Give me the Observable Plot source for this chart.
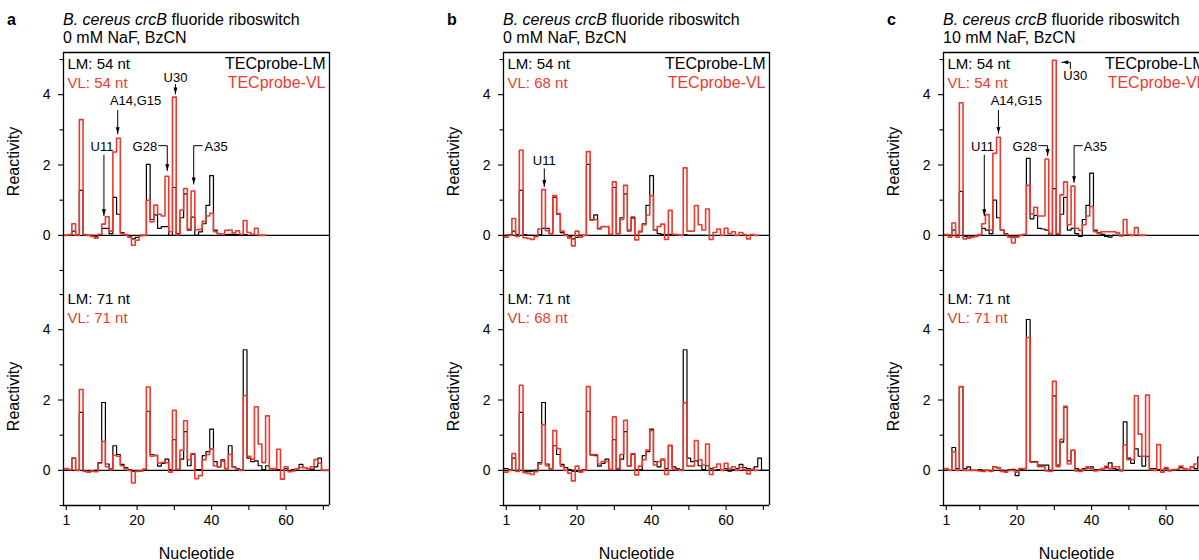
<!DOCTYPE html>
<html>
<head>
<meta charset="utf-8">
<script src="https://cdn.jsdelivr.net/npm/d3@7"></script>
<script src="https://cdn.jsdelivr.net/npm/@observablehq/plot@0.6"></script>
<style>
  html, body { margin: 0; padding: 0; background: #fff; overflow: hidden; }
  #root { position: relative; width: 1199px; height: 560px; overflow: hidden;
          font-family: "Liberation Sans", Arial, sans-serif; color: #000; }
  .abs { position: absolute; white-space: nowrap; }
  .plotbox { width: 340px; }
  .letter { font-size: 16px; font-weight: bold; line-height: 18px; }
  .title { font-size: 16px; line-height: 18px; }
  .abs svg { overflow: visible; max-width: none !important; }
</style>
</head>
<body>
<div id="root"></div>
<script>
// ---------- data: reactivity per nucleotide (index 0 = nucleotide 1) ----------
// TECprobe-LM, 54 nt, 0 mM NaF
const lm54_0mM = [0.0,0.02,0.12,0.02,1.28,0.02,0.0,0.0,-0.03,0.02,
  0.2,0.2,0.05,1.08,0.6,0.08,0.02,-0.02,-0.1,-0.06,
  0.0,0.0,2.02,0.45,0.58,0.2,0.25,0.25,0.0,1.36,
  0.05,0.5,1.18,0.15,0.52,0.0,0.1,0.33,0.85,1.7,
  0.15,0.05,0.03,0.02,0.03,0.02,0.02,0.0,0.02,0.0,
  0.0,0.0,0.0,0.0];
// TECprobe-VL, 54 nt, 0 mM NaF
const vl54_0mM = [0.0,0.02,0.33,0.0,3.29,0.02,0.0,-0.03,-0.08,0.03,
  0.32,0.53,0.12,2.37,2.76,0.05,0.02,-0.05,-0.28,-0.14,
  -0.02,0.0,1.0,0.38,0.86,0.6,0.55,1.68,0.1,3.93,
  0.02,0.72,1.33,0.18,1.26,0.16,0.17,0.4,0.55,0.63,
  0.1,0.05,0.03,0.14,0.15,0.07,0.13,0.03,0.42,0.08,
  0.04,0.2,0.0,0.0];
// TECprobe-LM, 71 nt, 0 mM NaF
const lm71_0mM = [0.05,0.02,0.35,0.0,1.65,-0.02,-0.04,-0.02,0.0,0.22,
  1.93,0.18,0.04,0.7,0.45,0.17,0.08,0.02,-0.02,-0.03,
  -0.02,0.02,1.68,0.45,0.42,0.12,0.2,0.32,0.02,0.87,
  0.02,0.32,1.1,0.13,0.45,0.02,0.02,0.42,0.53,1.17,
  0.25,0.1,0.3,0.05,0.7,0.1,0.05,0.02,3.43,0.35,
  0.25,0.27,0.13,0.02,0.13,0.05,0.0,0.02,0.0,0.05,
  -0.02,0.02,0.05,0.17,0.08,0.05,0.03,0.1,0.35,0.0,
  0.0];
// TECprobe-VL, 71 nt, 0 mM NaF
const vl71_0mM = [0.05,0.02,0.35,0.0,2.3,-0.03,-0.05,-0.02,-0.04,0.2,
  0.82,0.1,0.02,0.43,0.4,0.13,0.05,0.0,-0.36,-0.03,
  -0.02,0.04,2.37,0.4,0.43,0.2,0.23,0.22,-0.05,1.71,
  0.03,0.57,1.41,0.3,0.48,-0.24,-0.15,0.3,0.45,0.61,
  0.13,0.1,0.26,0.05,0.45,0.08,0.03,0.0,2.13,0.4,
  0.32,1.81,0.75,0.22,1.55,0.05,0.05,0.6,-0.25,0.1,
  -0.04,-0.02,0.05,0.08,0.08,0.05,0.1,0.31,0.2,0.0,
  0.0];
// TECprobe-VL, 68 nt, 0 mM NaF
const vl68_0mM = [-0.05,0.0,0.48,-0.03,2.42,-0.07,-0.09,-0.12,-0.04,0.18,
  1.3,0.13,0.05,1.13,0.62,0.12,0.0,-0.08,-0.3,0.12,
  -0.05,0.0,2.38,0.43,0.45,0.18,0.25,0.25,0.03,1.52,
  0.05,0.45,1.42,0.12,0.48,-0.13,0.12,0.3,0.58,1.13,
  0.15,0.25,0.32,-0.12,0.71,0.03,0.02,0.0,1.92,0.12,
  0.12,0.85,0.3,0.15,0.75,-0.12,0.08,0.18,0.0,0.2,
  0.05,0.1,0.0,0.08,0.02,-0.1,0.02,0.0];
// TECprobe-LM, 54 nt, 10 mM NaF
const lm54_10mM = [0.02,0.0,0.15,0.0,1.25,-0.03,-0.05,-0.03,-0.02,0.02,
  0.2,0.15,0.05,1.0,0.5,0.15,0.05,-0.02,-0.05,-0.02,
  0.0,0.02,2.19,0.47,0.57,0.2,0.18,0.15,0.0,1.33,
  0.02,0.6,1.08,0.15,0.2,0.05,-0.03,0.45,0.85,1.77,
  0.15,0.07,0.03,-0.03,-0.05,0.0,0.0,0.0,0.0,0.0,
  0.0,0.0,0.0,0.0];
// TECprobe-VL, 54 nt, 10 mM NaF
const vl54_10mM = [0.02,-0.05,0.35,-0.05,3.77,-0.1,-0.08,-0.05,-0.03,0.02,
  0.33,0.59,0.15,2.33,2.79,0.15,0.03,-0.05,-0.22,-0.05,
  0.0,0.03,1.42,0.61,0.8,0.55,0.55,2.17,0.05,4.98,
  0.05,1.15,1.52,0.3,1.4,0.2,0.14,0.3,0.55,0.82,
  0.1,0.05,0.1,0.1,0.1,0.1,0.07,-0.02,0.45,0.02,
  0.0,0.22,0.0,0.0];
// TECprobe-LM, 71 nt, 10 mM NaF (nucleotides visible in the figure)
const lm71_10mM = [0.05,0.0,0.65,0.05,2.38,0.05,0.1,0.0,0.0,0.02,
  0.0,0.0,-0.02,0.1,0.07,0.0,-0.02,0.02,0.03,-0.15,
  0.03,0.05,4.29,0.25,0.25,0.15,0.15,0.15,0.0,2.12,
  0.15,0.8,1.8,0.27,0.57,0.05,0.0,0.05,0.07,0.1,
  0.02,0.02,0.05,0.08,0.21,0.05,0.03,0.0,1.38,0.35,
  0.2,0.61,0.4,0.12,0.4,0.05,0.05,0.02,0.0,0.05,
  0.0,0.0,0.02,0.08,0.05,0.0,0.1,0.05,0.38];
// TECprobe-VL, 71 nt, 10 mM NaF (nucleotides visible in the figure)
const vl71_10mM = [0.05,0.0,0.53,0.0,2.38,0.0,0.0,0.0,0.0,-0.02,
  -0.03,0.0,-0.03,0.1,0.08,-0.03,-0.05,0.0,0.0,-0.05,
  0.05,0.05,3.78,0.23,0.23,0.1,0.1,-0.02,-0.03,2.53,
  0.1,0.88,1.82,0.18,0.57,-0.02,-0.03,0.02,0.1,0.05,
  -0.02,0.0,0.05,0.12,0.05,0.1,0.1,-0.02,0.72,0.3,
  0.3,2.12,1.03,0.4,2.14,0.02,0.0,0.73,-0.05,0.08,
  -0.02,0.02,0.03,0.12,0.05,0.02,0.1,0.18,0.15];

// ---------- ticks ----------
const xTicksMajor = [1, 20, 40, 60];
const xTicksMinor = [10, 30, 50, 70];
const yTicksMajor = [0, 2, 4];
const yTicksMinor = [-1, 1, 3, 5];
const X_DOMAIN = [0.25, 71.65];
const Y_DOMAIN = [-1, 5.2];

// ---------- annotations (nucleotide / reactivity units) ----------
const notesA = [
  {label: "U11", tx: 10.6, ty: 2.39, anchor: "middle", dir: "down", path: [[11.1, 2.28], [11.1, 0.56]]},
  {label: "A14,G15", tx: 19.6, ty: 3.71, anchor: "middle", dir: "down", path: [[14.8, 3.55], [14.8, 2.89]]},
  {label: "G28", tx: 25.4, ty: 2.41, anchor: "end", dir: "down", path: [[25.8, 2.55], [28.1, 2.55], [28.1, 1.84]]},
  {label: "U30", tx: 30.3, ty: 4.35, anchor: "middle", dir: "down", path: [[30.3, 4.29], [30.3, 4.02]]},
  {label: "A35", tx: 38.1, ty: 2.41, anchor: "start", dir: "down", path: [[37.5, 2.55], [35.2, 2.55], [35.2, 1.46]]}
];
const notesB = [
  {label: "U11", tx: 11.2, ty: 1.99, anchor: "middle", dir: "down", path: [[11.2, 1.89], [11.2, 1.39]]}
];
const notesC = [
  {label: "U11", tx: 10.7, ty: 2.39, anchor: "middle", dir: "down", path: [[11.2, 2.28], [11.2, 0.56]]},
  {label: "A14,G15", tx: 19.8, ty: 3.71, anchor: "middle", dir: "down", path: [[15.0, 3.55], [15.0, 2.9]]},
  {label: "G28", tx: 25.4, ty: 2.41, anchor: "end", dir: "down", path: [[25.8, 2.55], [28.2, 2.55], [28.2, 2.27]]},
  {label: "U30", tx: 32.4, ty: 4.42, anchor: "start", dir: "left", path: [[34.3, 4.74], [34.3, 4.92], [32.0, 4.92]]},
  {label: "A35", tx: 37.9, ty: 2.41, anchor: "start", dir: "down", path: [[37.5, 2.55], [35.3, 2.55], [35.3, 1.5]]}
];

const RED = "#ee3a2e";
const FONT = '"Liberation Sans", Arial, sans-serif';

const panels = [
  {letter: "a", left: 63, cond: "0 mM NaF, BzCN",
   top: {lm: lm54_0mM, vl: vl54_0mM, lmText: "LM: 54 nt", vlText: "VL: 54 nt", notes: notesA},
   bot: {lm: lm71_0mM, vl: vl71_0mM, lmText: "LM: 71 nt", vlText: "VL: 71 nt", notes: []}},
  {letter: "b", left: 503, cond: "0 mM NaF, BzCN",
   top: {lm: lm54_0mM, vl: vl68_0mM, lmText: "LM: 54 nt", vlText: "VL: 68 nt", notes: notesB},
   bot: {lm: lm71_0mM, vl: vl68_0mM, lmText: "LM: 71 nt", vlText: "VL: 68 nt", notes: []}},
  {letter: "c", left: 943, cond: "10 mM NaF, BzCN",
   top: {lm: lm54_10mM, vl: vl54_10mM, lmText: "LM: 54 nt", vlText: "VL: 54 nt", notes: notesC},
   bot: {lm: lm71_10mM, vl: vl71_10mM, lmText: "LM: 71 nt", vlText: "VL: 71 nt", notes: []}}
];

// stair rows: nucleotide n spans [n-0.5, n+0.5]
function stairs(vals) {
  const rows = vals.map((v, i) => ({x: i + 0.5, y: v}));
  rows.push({x: vals.length + 0.5, y: vals[vals.length - 1]});
  return rows;
}

const headDown = {draw(ctx, size) {
  const r = Math.sqrt(size / Math.PI), w = r * 0.5, h = r * 1.6;
  ctx.moveTo(0, 0); ctx.lineTo(-w, -h); ctx.lineTo(w, -h); ctx.closePath();
}};
const headLeft = {draw(ctx, size) {
  const r = Math.sqrt(size / Math.PI), w = r * 0.5, h = r * 1.6;
  ctx.moveTo(0, 0); ctx.lineTo(h, -w); ctx.lineTo(h, w); ctx.closePath();
}};

const ML = 60, MR = 14, PW = 266, PH = 218;

function subplot(cfg, isTop) {
  const mt = isTop ? 12 : 9, mb = isTop ? 8 : 55;
  const ext = isTop ? {insetBottom: -mb} : {insetTop: -mt};
  const marks = [
    Plot.ruleY([0], {stroke: "black", strokeWidth: 1.2}),
    Plot.line(stairs(cfg.lm), {x: "x", y: "y", curve: "step-after", stroke: "black", strokeWidth: 1.2}),
    Plot.line(stairs(cfg.vl), {x: "x", y: "y", curve: "step-after", stroke: RED, strokeWidth: 1.6}),
    Plot.ruleX(X_DOMAIN, {stroke: "black", strokeWidth: 1.3, ...ext}),
    Plot.ruleY([isTop ? Y_DOMAIN[1] : Y_DOMAIN[0]], {stroke: "black", strokeWidth: 1.3}),
    Plot.axisY(yTicksMajor, {tickSize: 5, tickPadding: 8, fontSize: 14, label: null, strokeWidth: 1.1}),
    Plot.axisY(yTicksMinor, {tickSize: 3.5, tickFormat: () => "", label: null, strokeWidth: 1.1}),
    Plot.text(["Reactivity"], {frameAnchor: "left", dx: -50, rotate: -90, fontSize: 16, textAnchor: "middle", lineAnchor: "middle", fill: "black"}),
    Plot.text([cfg.lmText], {frameAnchor: "top-left", dx: 4, dy: 16, lineAnchor: "bottom", textAnchor: "start", fontSize: 15, fill: "black"}),
    Plot.text([cfg.vlText], {frameAnchor: "top-left", dx: 4, dy: 35, lineAnchor: "bottom", textAnchor: "start", fontSize: 15, fill: RED})
  ];
  if (isTop) {
    marks.push(
      Plot.text(["TECprobe-LM"], {frameAnchor: "top-right", dx: -4, dy: 16, lineAnchor: "bottom", textAnchor: "end", fontSize: 16, fill: "black"}),
      Plot.text(["TECprobe-VL"], {frameAnchor: "top-right", dx: -4, dy: 35, lineAnchor: "bottom", textAnchor: "end", fontSize: 16, fill: RED})
    );
  } else {
    marks.push(
      Plot.axisX(xTicksMajor, {tickSize: 5, tickPadding: 5, fontSize: 14, label: null, strokeWidth: 1.1}),
      Plot.axisX(xTicksMinor, {tickSize: 5, tickFormat: () => "", label: null, strokeWidth: 1.1}),
      Plot.text(["Nucleotide"], {frameAnchor: "bottom", dy: 53, lineAnchor: "bottom", textAnchor: "middle", fontSize: 16, fill: "black"})
    );
  }
  const notes = cfg.notes;
  if (notes.length) {
    const segs = notes.flatMap((d, i) => d.path.map(([x, y]) => ({id: i, x, y})));
    const tips = notes.map(d => ({x: d.path[d.path.length - 1][0], y: d.path[d.path.length - 1][1], dir: d.dir}));
    marks.push(
      Plot.line(segs, {x: "x", y: "y", z: "id", stroke: "black", strokeWidth: 1, curve: "linear"}),
      Plot.dot(tips.filter(d => d.dir === "down"), {x: "x", y: "y", r: 4, symbol: headDown, fill: "black", stroke: "none"}),
      Plot.dot(tips.filter(d => d.dir === "left"), {x: "x", y: "y", r: 4, symbol: headLeft, fill: "black", stroke: "none"})
    );
    for (const a of ["start", "middle", "end"]) {
      const sub = notes.filter(d => d.anchor === a);
      if (sub.length) marks.push(Plot.text(sub, {x: "tx", y: "ty", text: "label", textAnchor: a, lineAnchor: "bottom", fontSize: 13, fill: "black"}));
    }
  }
  return Plot.plot({
    width: ML + PW + MR,
    height: mt + PH + mb,
    marginLeft: ML, marginRight: MR, marginTop: mt, marginBottom: mb,
    x: {domain: X_DOMAIN, axis: isTop ? null : undefined},
    y: {domain: Y_DOMAIN},
    style: {fontFamily: FONT, fontSize: "14px", color: "black", background: "transparent", overflow: "visible", maxWidth: "none"},
    marks
  });
}

const root = document.getElementById("root");
for (const p of panels) {
  const letter = document.createElement("div");
  letter.className = "abs letter";
  letter.style.left = (p.left - 56) + "px";
  letter.style.top = "10.5px";
  letter.textContent = p.letter;
  root.appendChild(letter);

  const title = document.createElement("div");
  title.className = "abs title";
  title.style.left = p.left + "px";
  title.style.top = "11px";
  title.innerHTML = "<i>B. cereus crcB</i> fluoride riboswitch<br>" + p.cond;
  root.appendChild(title);

  const topDiv = document.createElement("div");
  topDiv.className = "abs plotbox";
  topDiv.style.left = (p.left - ML) + "px";
  topDiv.style.top = "40px";
  topDiv.appendChild(subplot(p.top, true));
  root.appendChild(topDiv);

  const botDiv = document.createElement("div");
  botDiv.className = "abs plotbox";
  botDiv.style.left = (p.left - ML) + "px";
  botDiv.style.top = "278px";
  botDiv.appendChild(subplot(p.bot, false));
  root.appendChild(botDiv);
}
</script>
</body>
</html>
